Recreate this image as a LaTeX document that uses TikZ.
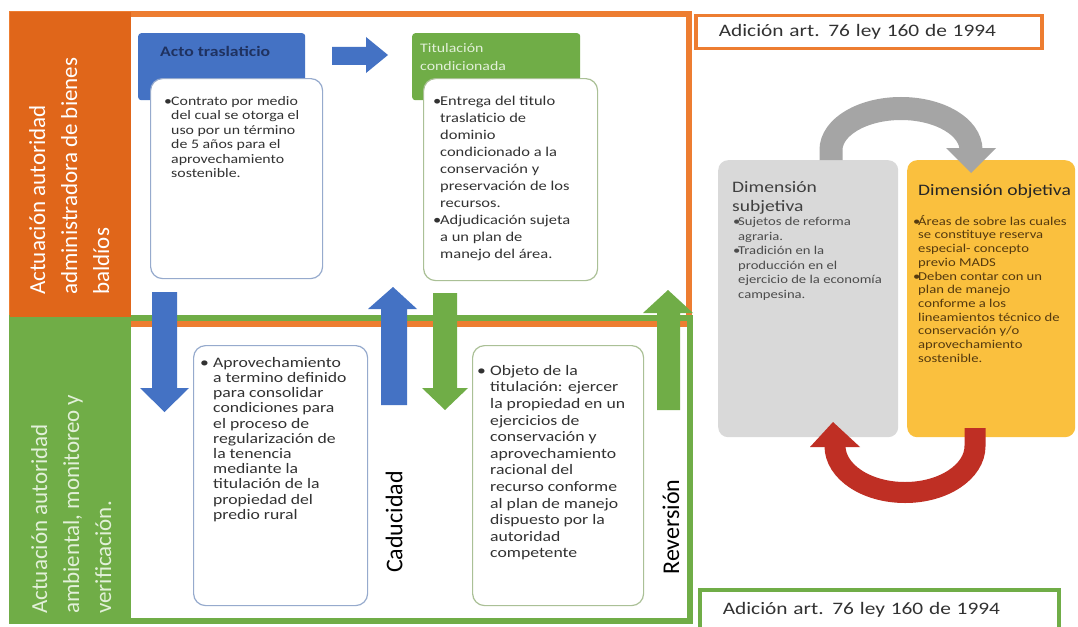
\documentclass[tikz,border=0pt]{standalone}
\usepackage{fontspec}
\setmainfont{Carlito}[FakeStretch=1.22]
\newfontfamily\rotfont{Carlito}
\usetikzlibrary{positioning}
\definecolor{blu}{RGB}{68,114,196}
\definecolor{grn}{RGB}{112,173,71}
\definecolor{orng}{RGB}{237,125,49}
\definecolor{orngdk}{RGB}{224,102,26}
\definecolor{navy}{RGB}{31,50,96}
\definecolor{palegrn}{RGB}{226,240,217}
\definecolor{txtgray}{RGB}{50,50,50}
\definecolor{bluegray}{RGB}{150,170,205}
\definecolor{grngray}{RGB}{170,192,150}
\definecolor{boxgray}{RGB}{217,217,217}
\definecolor{boxyel}{RGB}{250,192,62}
\definecolor{arcgray}{RGB}{165,165,165}
\definecolor{arcred}{RGB}{191,47,36}
\definecolor{browntxt}{RGB}{85,58,15}
\newcommand{\bul}[1][7pt]{\makebox[#1][l]{\textbullet}}
\newcommand{\hng}[1][7pt]{\makebox[#1]{}}
\tikzset{
  panel_n/.style = {anchor=north west, inner sep=0pt, minimum width=121pt},
  side_t/.style = {rotate=90, anchor=north west, align=left, inner sep=0pt,
    font=\rotfont\fontsize{23}{32}\selectfont},
  hdr_n/.style = {anchor=north west, inner sep=0pt, rounded corners=3pt,
    minimum height=67pt},
  card_n/.style = {anchor=north west, inner sep=0pt, draw, fill=white,
    line width=1.2pt, rounded corners=12pt},
  txt_n/.style = {anchor=north west, align=left, inner sep=0pt, text=txtgray},
  dim_n/.style = {anchor=north west, inner sep=0pt, rounded corners=10pt,
    minimum height=277pt},
  add_n/.style = {anchor=north west, fill=white, line width=3.5pt,
    inner xsep=23pt, text width=300pt, align=left, text=txtgray,
    font=\fontsize{17.5}{20}\selectfont},
  vlab_n/.style = {rotate=90, inner sep=0pt, text=black,
    font=\rotfont\fontsize{24}{26}\selectfont}}

\begin{document}
\begin{tikzpicture}[x=1pt, y=-1pt]
 \tikzstyle{blk_b}=[fill=blu, draw=none]
 \tikzstyle{blk_g}=[fill=grn, draw=none]

\useasboundingbox (0,0) rectangle (1078,626);
\fill[white] (0,0) rectangle (1078,626);

% frames of the two bands
\draw[orng, line width=6pt] (12,14) rectangle (689,324);
\draw[grn, line width=6pt] (12,318) rectangle (690,621);

% side panels
\node[panel_n, fill=orngdk, minimum height=305pt] (top_p) at (10,12) {};
\node[panel_n, fill=grn, minimum height=304pt] (bot_p) at (10,317) {};
\node[side_t, text=white] (top_s) at (29,295)
  {Actuación autoridad\\administradora de bienes\\baldíos};
\node[side_t, text=palegrn] (bot_s) at (31,614)
  {Actuación autoridad\\ambiental, monitoreo y\\verificación.};

% upper band
\node[hdr_n, fill=blu, minimum width=167pt] (acto) at (138,33) {};
\node[txt_n, below right=13pt and 22pt of acto.north west, text=navy,
  font=\bfseries\fontsize{14.5}{16}\selectfont] (acto_t) {Acto traslaticio};
\node[card_n, draw=bluegray, minimum width=172pt, minimum height=200pt]
  (contrato) at (150,78) {};
\node[txt_n, below right=18pt and 14pt of contrato.north west,
  font=\fontsize{13}{14.5}\selectfont] (contrato_t)
  {\bul Contrato por medio\\
   \hng del cual se otorga el\\
   \hng uso por un término\\
   \hng de 5 años para el\\
   \hng aprovechamiento\\
   \hng sostenible.};

\fill[blk_b] (332,47) -- (366,47) -- (366,37) -- (388,55) -- (366,73)
  -- (366,65) -- (332,65) -- cycle;

\node[hdr_n, fill=grn, minimum width=168pt] (titul) at (412,33) {};
\node[txt_n, below right=10pt and 8pt of titul.north west, text=palegrn,
  font=\fontsize{13}{18}\selectfont] (titul_t) {Titulación\\condicionada};
\node[card_n, draw=grngray, minimum width=174pt, minimum height=202pt]
  (entrega) at (423,78) {};
\node[txt_n, below right=18pt and 10pt of entrega.north west,
  font=\fontsize{13.5}{17}\selectfont] (entrega_t)
  {\bul Entrega del titulo\\
   \hng traslaticio de\\
   \hng dominio\\
   \hng condicionado a la\\
   \hng conservación y\\
   \hng preservación de los\\
   \hng recursos.\\
   \bul Adjudicación sujeta\\
   \hng a un plan de\\
   \hng manejo del área.};

% block arrows between the bands
\fill[blk_b] (152,292) -- (177,292) -- (177,388) -- (189,388) -- (164.5,412)
  -- (140,388) -- (152,388) -- cycle;
\fill[blk_b] (381,405) -- (407,405) -- (407,309) -- (417,309) -- (393,287)
  -- (368,309) -- (381,309) -- cycle;
\fill[blk_g] (433,293) -- (457,293) -- (457,388) -- (468,388) -- (445,410)
  -- (422,388) -- (433,388) -- cycle;
\fill[blk_g] (657,410) -- (680,410) -- (680,313) -- (693,313) -- (668,290)
  -- (643,313) -- (657,313) -- cycle;

% lower band
\node[card_n, draw=bluegray, minimum width=174pt, minimum height=260pt]
  (aprov) at (193,345) {};
\node[txt_n, below right=12pt and 7pt of aprov.north west,
  font=\fontsize{14.5}{15.2}\selectfont] (aprov_t)
  {\bul[13pt]Aprovechamiento\\
   \hng[13pt]a termino definido\\
   \hng[13pt]para consolidar\\
   \hng[13pt]condiciones para\\
   \hng[13pt]el proceso de\\
   \hng[13pt]regularización de\\
   \hng[13pt]la tenencia\\
   \hng[13pt]mediante la\\
   \hng[13pt]titulación de la\\
   \hng[13pt]propiedad del\\
   \hng[13pt]predio rural};
\node[card_n, draw=grngray, minimum width=171pt, minimum height=260pt]
  (objeto) at (472,345) {};
\node[txt_n, below right=20pt and 5pt of objeto.north west,
  font=\fontsize{14.5}{16.6}\selectfont] (objeto_t)
  {\bul[13pt]Objeto de la\\
   \hng[13pt]titulación: ejercer\\
   \hng[13pt]la propiedad en un\\
   \hng[13pt]ejercicios de\\
   \hng[13pt]conservación y\\
   \hng[13pt]aprovechamiento\\
   \hng[13pt]racional del\\
   \hng[13pt]recurso conforme\\
   \hng[13pt]al plan de manejo\\
   \hng[13pt]dispuesto por la\\
   \hng[13pt]autoridad\\
   \hng[13pt]competente};
\node[vlab_n] (cad) at (394,522) {Caducidad};
\node[vlab_n] (rev) at (671,527) {Reversión};

% right side
\node[add_n, draw=orng, minimum height=33pt] (add_top) at (694,14)
  {Adición art. 76 ley 160 de 1994};
\node[add_n, draw=grn, minimum height=40pt, text width=313pt] (add_bot)
  at (698,588) {Adición art. 76 ley 160 de 1994};

\node[dim_n, fill=boxgray, minimum width=180pt] (subj) at (718,160) {};
\node[dim_n, fill=boxyel, minimum width=168pt] (obj) at (907,160) {};
\node[txt_n, below right=21pt and 14pt of subj.north west, text=black!75,
  font=\fontsize{16}{19}\selectfont] (subj_h) {Dimensión\\subjetiva};
\node[txt_n, below right=24pt and 11pt of obj.north west, text=black!85,
  font=\fontsize{16}{19}\selectfont] (obj_h) {Dimensión objetiva};
\node[txt_n, below right=57pt and 15pt of subj.north west, text=black!70,
  font=\fontsize{12}{14.5}\selectfont] (subj_t)
  {\bul[5pt]Sujetos de reforma\\
   \hng[5pt]agraria.\\
   \bul[5pt]Tradición en la\\
   \hng[5pt]producción en el\\
   \hng[5pt]ejercicio de la economía\\
   \hng[5pt]campesina.};
\node[txt_n, below right=55pt and 6pt of obj.north west, text=browntxt,
  font=\fontsize{12}{13.7}\selectfont] (obj_t)
  {\bul[5pt]Áreas de sobre las cuales\\
   \hng[5pt]se constituye reserva\\
   \hng[5pt]especial- concepto\\
   \hng[5pt]previo MADS\\
   \bul[5pt]Deben contar con un\\
   \hng[5pt]plan de manejo\\
   \hng[5pt]conforme a los\\
   \hng[5pt]lineamientos técnico de\\
   \hng[5pt]conservación y/o\\
   \hng[5pt]aprovechamiento\\
   \hng[5pt]sostenible.};

% cycle arrows
\draw[arcgray, line width=23pt] (831,160) -- (831,150)
  arc[start angle=180, end angle=360, x radius=70, y radius=41.5];
\fill[arcgray] (946,148) -- (996,148) -- (971,173) -- cycle;
\draw[arcred, line width=21pt] (975,428) -- (975,446)
  arc[start angle=0, end angle=180, x radius=70, y radius=46.5];
\fill[arcred] (810,447) -- (860,447) -- (833,422) -- cycle;
\end{tikzpicture}
\end{document}
